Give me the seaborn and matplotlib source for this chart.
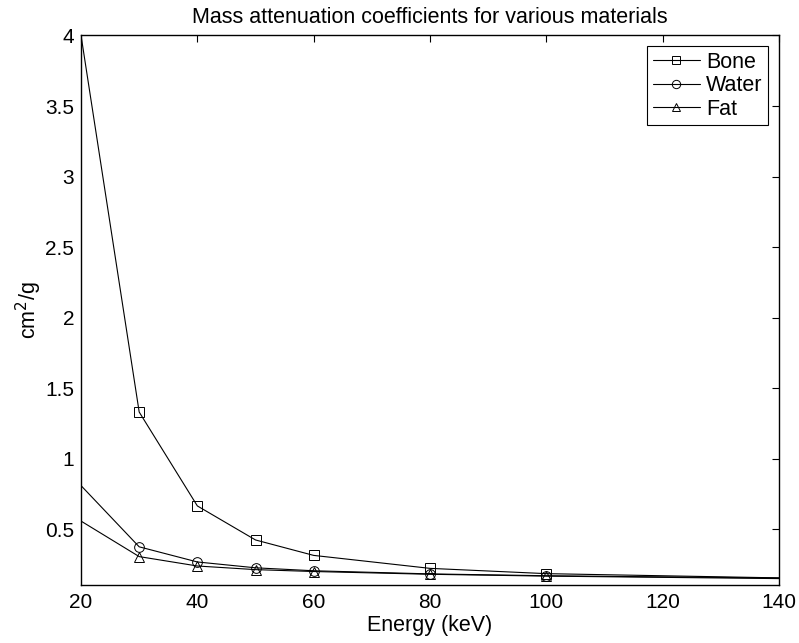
import pandas as pd
import seaborn as sns
import matplotlib.pyplot as plt

# Energy in keV and mass attenuation coefficients (cm^2/g)
energy = [20, 30, 40, 50, 60, 80, 100, 150]
bone = [4.001, 1.331, 0.6655, 0.4242, 0.3148, 0.2229, 0.1855, 0.1480]
water = [0.8096, 0.3756, 0.2683, 0.2269, 0.2059, 0.1837, 0.1707, 0.1505]
fat = [0.5581, 0.3063, 0.2397, 0.2140, 0.2006, 0.1810, 0.1680, 0.1460]
materials = ['Bone', 'Water', 'Fat']

df = pd.DataFrame({
    'Energy': energy * 3,
    'mu': bone + water + fat,
    'Material': [m for m in materials for _ in energy],
})

sns.set_style('white')
plt.rcParams['font.family'] = ['Liberation Sans', 'DejaVu Sans']
plt.rcParams['text.color'] = 'k'
plt.rcParams['axes.labelcolor'] = 'k'

fig = plt.figure(figsize=(7.99, 6.43), dpi=100)
ax = fig.add_axes([0.1014, 0.0902, 0.8736, 0.8546])

sns.lineplot(data=df, x='Energy', y='mu', hue='Material', style='Material',
             hue_order=materials, style_order=materials,
             palette=['k', 'k', 'k'], markers=['s', 'o', '^'], dashes=False,
             markersize=7, markeredgecolor='k', markerfacecolor='none',
             markeredgewidth=0.7, linewidth=0.8, markevery=[1, 2, 3, 4, 5, 6],
             legend=False, ax=ax)

ax.set_xlim(20, 140)
ax.set_ylim(0.105, 4.0)
ax.set_xticks([20, 40, 60, 80, 100, 120, 140])
ax.set_yticks([0.5, 1, 1.5, 2, 2.5, 3, 3.5, 4])
ax.set_yticklabels(['0.5', '1', '1.5', '2', '2.5', '3', '3.5', '4'])
ax.tick_params(direction='in', length=5, width=0.8, top=True, right=True,
               labelsize=15, colors='k', pad=5)
ax.tick_params(axis='x', pad=6)
for s in ax.spines.values():
    s.set_color('k')
    s.set_linewidth(1.0)

ax.set_title('Mass attenuation coefficients for various materials', fontsize=15.5, pad=9)
ax.set_xlabel('Energy (keV)', fontsize=15.5, labelpad=2)
ax.set_ylabel('cm$^2$/g', fontsize=15.5, labelpad=1)

leg = ax.legend(ax.lines, materials, loc='upper right', fontsize=15.5,
                frameon=True, fancybox=False, edgecolor='k', framealpha=1,
                handlelength=2.2, handletextpad=0.3, borderpad=0.25,
                labelspacing=0.12, borderaxespad=0.5)
leg.get_frame().set_linewidth(0.8)
for h in leg.legend_handles:
    h.set_markersize(6)

fig.savefig('out.png', dpi=100)
